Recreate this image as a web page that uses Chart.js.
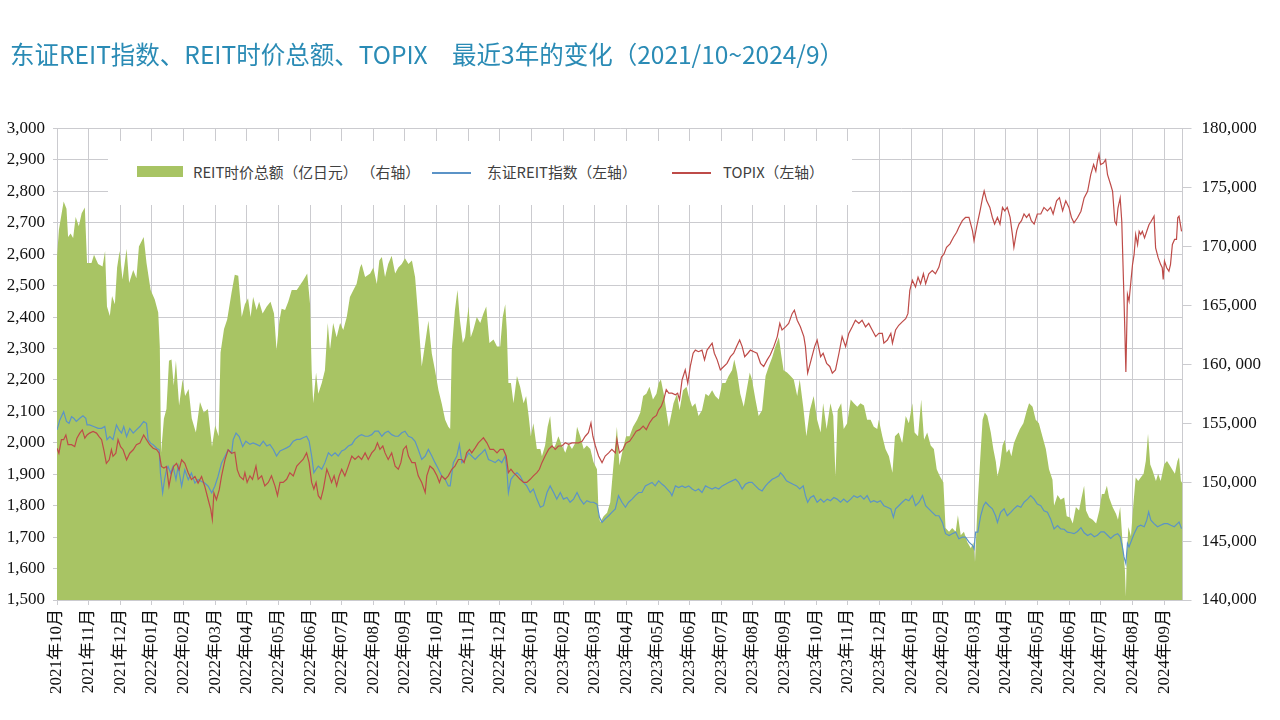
<!DOCTYPE html>
<html>
<head>
<meta charset="utf-8">
<script src="https://cdn.jsdelivr.net/npm/chart.js@4.4.1/dist/chart.umd.min.js"></script>
<style>
  body { margin: 0; width: 1280px; height: 720px; background: #fff; position: relative; overflow: hidden; }
  #title { position: absolute; left: 10px; top: 39px; font: 24.5px "Noto Sans CJK SC", "Noto Sans", sans-serif; line-height: 30px; color: #2a8bb5; white-space: nowrap; }
  #legend { position: absolute; left: 108px; top: 141px; width: 744px; height: 64px; background: #fff; font: 14.8px "Noto Sans CJK SC", "Noto Sans", sans-serif; color: #404040; }
  #legend span { position: absolute; top: 21px; line-height: 20px; white-space: nowrap; }
  #legend i { position: absolute; display: block; }
  canvas { position: absolute; left: 0; top: 0; }
</style>
</head>
<body>
<canvas id="chart" width="1280" height="720"></canvas>
<div id="title">东证REIT指数、REIT时价总额、TOPIX　最近3年的变化（2021/10~2024/9）</div>
<div id="legend">
  <i style="left:29px;top:25px;width:46px;height:11px;background:#a8c464"></i>
  <span style="left:85px">REIT时价总额（亿日元） （右轴）</span>
  <i style="left:324px;top:31px;width:39px;height:1.5px;background:#5b93c7"></i>
  <span style="left:379px">东证REIT指数（左轴）</span>
  <i style="left:564px;top:31px;width:39px;height:1.5px;background:#be4b48"></i>
  <span style="left:615px">TOPIX（左轴）</span>
</div>
<script>
//------------------------------ DATA ----------------------------------
// x 轴刻度（每月）
const monthLabels = [
  '2021年10月', '2021年11月', '2021年12月',
  '2022年01月', '2022年02月', '2022年03月', '2022年04月', '2022年05月', '2022年06月',
  '2022年07月', '2022年08月', '2022年09月', '2022年10月', '2022年11月', '2022年12月',
  '2023年01月', '2023年02月', '2023年03月', '2023年04月', '2023年05月', '2023年06月',
  '2023年07月', '2023年08月', '2023年09月', '2023年10月', '2023年11月', '2023年12月',
  '2024年01月', '2024年02月', '2024年03月', '2024年04月', '2024年05月', '2024年06月',
  '2024年07月', '2024年08月', '2024年09月'
];

// 右轴刻度文字（原图 160, 000 中有空格）
const rightTickLabels = ['140,000', '145,000', '150,000', '155,000', '160, 000', '165,000', '170,000', '175,000', '180,000'];

// REIT时价总额（亿日元）: 月份偏移（2021/10 起）与数值
const capMonth = [
  0.00, 0.06, 0.21, 0.30, 0.35, 0.43, 0.51, 0.59, 0.69, 0.78, 0.88, 0.95, 1.09, 1.17, 1.30, 1.44, 1.52, 1.58, 1.67, 1.74,
  1.83, 1.90, 1.98, 2.07, 2.20, 2.28, 2.41, 2.51, 2.59, 2.74, 2.83, 2.96, 3.09, 3.20, 3.25, 3.29, 3.38, 3.46, 3.54, 3.62,
  3.69, 3.76, 3.86, 3.97, 4.05, 4.16, 4.26, 4.39, 4.52, 4.64, 4.77, 4.90, 5.00, 5.11, 5.17, 5.28, 5.38, 5.52, 5.62, 5.73,
  5.84, 5.94, 6.04, 6.12, 6.20, 6.31, 6.39, 6.50, 6.63, 6.75, 6.86, 6.94, 7.03, 7.10, 7.21, 7.31, 7.42, 7.58, 7.68, 7.78,
  7.91, 8.00, 8.05, 8.10, 8.19, 8.26, 8.37, 8.47, 8.56, 8.63, 8.73, 8.84, 8.95, 9.05, 9.16, 9.26, 9.37, 9.47, 9.58, 9.63,
  9.74, 9.90, 10.00, 10.11, 10.19, 10.27, 10.37, 10.47, 10.58, 10.69, 10.79, 10.90, 11.00, 11.11, 11.22, 11.32, 11.42, 11.53, 11.64, 11.74,
  11.85, 11.95, 12.06, 12.16, 12.27, 12.37, 12.43, 12.48, 12.58, 12.66, 12.74, 12.83, 12.90, 13.01, 13.08, 13.16, 13.27, 13.38, 13.48, 13.57,
  13.67, 13.80, 13.91, 14.01, 14.09, 14.17, 14.22, 14.27, 14.35, 14.43, 14.54, 14.64, 14.75, 14.83, 14.91, 14.98, 15.06, 15.17, 15.28, 15.33,
  15.43, 15.51, 15.59, 15.68, 15.75, 15.85, 15.96, 16.07, 16.17, 16.28, 16.38, 16.44, 16.54, 16.65, 16.75, 16.86, 16.96, 17.07, 17.12, 17.17,
  17.28, 17.39, 17.49, 17.59, 17.70, 17.78, 17.89, 17.99, 18.10, 18.21, 18.34, 18.44, 18.53, 18.63, 18.73, 18.84, 18.95, 19.02, 19.09, 19.18,
  19.34, 19.41, 19.49, 19.60, 19.68, 19.79, 19.90, 19.97, 20.08, 20.18, 20.28, 20.39, 20.50, 20.60, 20.71, 20.81, 20.92, 21.03, 21.13, 21.23,
  21.34, 21.41, 21.50, 21.60, 21.71, 21.82, 21.90, 21.97, 22.08, 22.18, 22.29, 22.40, 22.50, 22.61, 22.71, 22.82, 22.89, 22.97, 23.08, 23.19,
  23.29, 23.40, 23.48, 23.59, 23.69, 23.80, 23.92, 24.03, 24.14, 24.22, 24.33, 24.45, 24.54, 24.61, 24.68, 24.79, 24.87, 24.98, 25.09, 25.19,
  25.30, 25.40, 25.51, 25.61, 25.72, 25.82, 25.93, 25.98, 26.09, 26.19, 26.30, 26.41, 26.49, 26.61, 26.72, 26.83, 26.93, 27.04, 27.11, 27.22,
  27.32, 27.41, 27.51, 27.62, 27.72, 27.81, 27.91, 28.02, 28.09, 28.20, 28.30, 28.41, 28.48, 28.57, 28.67, 28.78, 28.89, 28.97, 29.02, 29.10,
  29.18, 29.26, 29.33, 29.41, 29.52, 29.60, 29.68, 29.73, 29.81, 29.89, 29.96, 30.02, 30.10, 30.17, 30.25, 30.34, 30.44, 30.55, 30.66, 30.73,
  30.84, 30.94, 31.04, 31.15, 31.26, 31.36, 31.47, 31.52, 31.63, 31.73, 31.84, 31.92, 32.03, 32.11, 32.21, 32.31, 32.39, 32.47, 32.53, 32.63,
  32.74, 32.85, 32.95, 33.03, 33.11, 33.19, 33.26, 33.37, 33.48, 33.54, 33.61, 33.68, 33.76, 33.79, 33.82, 33.87, 33.95, 34.03, 34.10, 34.18,
  34.26, 34.35, 34.42, 34.49, 34.56, 34.63, 34.74, 34.81, 34.89, 35.00, 35.09, 35.16, 35.27, 35.34, 35.42, 35.47, 35.53, 35.58
];
const capValue = [
  169100, 171400, 173800, 173200, 170800, 171100, 170700, 172500, 171700, 172800, 173300, 168600, 168600, 169300, 168500, 168300, 169600, 164900, 164100, 165800,
  165100, 168200, 169600, 167200, 169800, 166900, 168000, 167300, 170000, 170800, 168600, 166300, 165500, 164400, 161500, 152500, 155400, 156200, 160300, 160400,
  158200, 160300, 156500, 158700, 157300, 157900, 155400, 154200, 156800, 155900, 156200, 153000, 154800, 153900, 161000, 163000, 163800, 166100, 167600, 167500,
  164000, 165100, 165600, 164000, 165700, 164600, 165300, 164300, 164900, 165300, 164300, 161200, 163700, 164700, 164600, 165300, 166300, 166300, 166700, 167100,
  167700, 165100, 159500, 156700, 159300, 157500, 158400, 159500, 163500, 161200, 163500, 162300, 163500, 162900, 164000, 165700, 166300, 166800, 168200, 168500,
  167400, 167700, 168200, 166800, 168800, 169100, 167400, 168500, 169200, 167700, 168200, 168500, 169000, 168500, 168800, 167400, 164000, 159800, 161800, 163700,
  160900, 159500, 157800, 156700, 155300, 154700, 154500, 161200, 164600, 166300, 163700, 161800, 162300, 164900, 162300, 162900, 164000, 163500, 164300, 164900,
  161800, 162100, 161500, 161500, 164000, 165100, 162900, 158400, 158400, 156700, 159000, 158100, 156700, 157300, 155600, 153900, 155000, 152800, 152800, 152200,
  153100, 154700, 155600, 152800, 153100, 153900, 153100, 152500, 153300, 152800, 153300, 154700, 153900, 152800, 153100, 152800, 151700, 151100, 147400, 146600,
  147100, 147400, 148300, 151400, 154700, 151400, 152800, 153900, 153900, 154700, 155300, 155900, 157300, 157500, 158100, 157000, 157500, 158400, 158700, 157500,
  154700, 155600, 156700, 157500, 156100, 157800, 158100, 157300, 156400, 156700, 155600, 156100, 157500, 157300, 157800, 157300, 157000, 158400, 158400, 159000,
  159500, 160400, 159300, 157500, 156400, 158100, 159300, 158700, 157000, 155600, 156100, 159000, 159800, 160600, 161500, 162300, 160900, 159500, 159300, 159000,
  158700, 157300, 158700, 156400, 153900, 156100, 157300, 155300, 154200, 156700, 154500, 156700, 155600, 150500, 156100, 156700, 154500, 155000, 157000, 156700,
  156400, 156700, 156500, 155300, 155300, 154700, 154500, 155300, 153900, 152800, 152200, 150800, 153900, 154200, 153300, 155600, 155000, 156700, 154200, 153900,
  157000, 153600, 154200, 153100, 152800, 151100, 150500, 150000, 146100, 145800, 146100, 145800, 147200, 145500, 145800, 144900, 144400, 144900, 143200, 148000,
  151700, 155300, 155900, 155600, 154200, 152800, 151700, 150500, 151400, 153100, 153600, 152500, 152800, 152200, 153300, 153900, 154500, 155000, 156100, 156700,
  156400, 155300, 155000, 153900, 152800, 151100, 150200, 148000, 148900, 148500, 148700, 147100, 147000, 146500, 147900, 147600, 148700, 149700, 147600, 147000,
  146800, 146500, 147600, 149000, 149000, 149700, 148700, 147900, 147300, 146800, 147900, 145100, 142500, 140300, 143900, 146200, 145400, 148200, 150400, 150100,
  150400, 150700, 151800, 154100, 151500, 151000, 150100, 150700, 150100, 151500, 151800, 151500, 151000, 150700, 151800, 152100, 150100, 149900
];

// 东证REIT指数
const reitMonth = [
  0.00, 0.09, 0.21, 0.30, 0.38, 0.46, 0.53, 0.61, 0.72, 0.82, 0.91, 0.95, 1.03, 1.16, 1.30, 1.41, 1.51, 1.58, 1.67, 1.77,
  1.88, 1.96, 2.04, 2.11, 2.20, 2.30, 2.41, 2.51, 2.62, 2.74, 2.83, 2.88, 2.96, 3.04, 3.15, 3.23, 3.27, 3.34, 3.40, 3.46,
  3.51, 3.59, 3.67, 3.76, 3.83, 3.94, 4.04, 4.15, 4.25, 4.36, 4.46, 4.57, 4.67, 4.78, 4.89, 4.99, 5.09, 5.20, 5.31, 5.41,
  5.52, 5.57, 5.66, 5.76, 5.87, 5.97, 6.10, 6.20, 6.31, 6.41, 6.52, 6.63, 6.73, 6.84, 6.94, 7.05, 7.15, 7.26, 7.36, 7.47,
  7.58, 7.68, 7.78, 7.89, 7.97, 8.05, 8.12, 8.19, 8.26, 8.37, 8.47, 8.58, 8.68, 8.79, 8.89, 9.00, 9.10, 9.21, 9.32, 9.42,
  9.53, 9.63, 9.74, 9.84, 9.95, 10.05, 10.16, 10.27, 10.37, 10.47, 10.58, 10.69, 10.79, 10.90, 11.00, 11.11, 11.22, 11.32, 11.42, 11.53,
  11.64, 11.74, 11.85, 11.95, 12.06, 12.16, 12.27, 12.37, 12.43, 12.53, 12.64, 12.72, 12.80, 12.90, 13.01, 13.11, 13.22, 13.32, 13.43, 13.53,
  13.64, 13.75, 13.85, 13.96, 14.06, 14.17, 14.22, 14.27, 14.35, 14.43, 14.54, 14.64, 14.75, 14.85, 14.96, 15.06, 15.17, 15.28, 15.38, 15.49,
  15.59, 15.70, 15.80, 15.91, 16.01, 16.12, 16.22, 16.33, 16.44, 16.54, 16.65, 16.75, 16.86, 16.96, 17.07, 17.15, 17.23, 17.33, 17.44, 17.54,
  17.65, 17.75, 17.86, 17.97, 18.07, 18.18, 18.28, 18.39, 18.49, 18.60, 18.70, 18.81, 18.91, 19.02, 19.13, 19.20, 19.29, 19.39, 19.44, 19.55,
  19.65, 19.76, 19.86, 19.97, 20.08, 20.18, 20.28, 20.39, 20.50, 20.60, 20.71, 20.81, 20.92, 21.03, 21.13, 21.23, 21.34, 21.45, 21.55, 21.66,
  21.76, 21.87, 21.97, 22.08, 22.18, 22.29, 22.40, 22.50, 22.61, 22.71, 22.82, 22.87, 22.96, 23.06, 23.16, 23.27, 23.38, 23.48, 23.59, 23.66,
  23.73, 23.82, 23.92, 24.03, 24.14, 24.24, 24.35, 24.45, 24.56, 24.66, 24.77, 24.87, 24.98, 25.09, 25.19, 25.30, 25.40, 25.51, 25.61, 25.72,
  25.82, 25.93, 26.03, 26.14, 26.25, 26.36, 26.44, 26.51, 26.61, 26.72, 26.83, 26.93, 27.04, 27.14, 27.25, 27.36, 27.46, 27.56, 27.67, 27.78,
  27.88, 27.99, 28.09, 28.20, 28.30, 28.41, 28.51, 28.62, 28.72, 28.83, 28.94, 28.99, 29.04, 29.11, 29.20, 29.29, 29.36, 29.46, 29.57, 29.67,
  29.73, 29.83, 29.94, 30.04, 30.15, 30.25, 30.36, 30.47, 30.57, 30.68, 30.78, 30.89, 30.99, 31.10, 31.20, 31.31, 31.41, 31.52, 31.63, 31.73,
  31.84, 31.94, 32.05, 32.15, 32.26, 32.37, 32.47, 32.58, 32.68, 32.79, 32.89, 33.00, 33.10, 33.21, 33.31, 33.42, 33.53, 33.61, 33.68, 33.73,
  33.79, 33.84, 33.89, 33.97, 34.05, 34.16, 34.26, 34.37, 34.45, 34.51, 34.58, 34.68, 34.79, 34.89, 35.00, 35.11, 35.21, 35.32, 35.42, 35.47,
  35.55
];
const reitValue = [
  2041, 2073, 2099, 2068, 2062, 2083, 2078, 2068, 2078, 2086, 2078, 2057, 2057, 2052, 2046, 2046, 2052, 2010, 2020, 2010,
  2057, 2041, 2031, 2052, 2020, 2046, 2031, 2041, 2052, 2068, 2062, 2010, 1999, 1994, 1983, 1978, 1904, 1841, 1883, 1914,
  1925, 1904, 1925, 1883, 1925, 1862, 1914, 1883, 1904, 1872, 1883, 1877, 1872, 1862, 1841, 1862, 1893, 1935, 1957, 1978,
  1967, 2010, 2031, 2020, 1988, 2005, 1995, 2000, 1995, 1990, 2005, 1990, 1995, 1979, 1958, 1974, 1979, 1984, 1990, 2005,
  2011, 2011, 2016, 2021, 2005, 1958, 1905, 1916, 1926, 1916, 1937, 1968, 1958, 1968, 1958, 1974, 1979, 1990, 1995, 2011,
  2021, 2026, 2021, 2021, 2026, 2037, 2037, 2021, 2032, 2037, 2026, 2021, 2021, 2032, 2037, 2021, 2016, 2005, 1979, 1947,
  1958, 1979, 1958, 1937, 1916, 1895, 1884, 1863, 1863, 1937, 1958, 1995, 1937, 1947, 1968, 1958, 1947, 1958, 1968, 1979,
  1947, 1942, 1937, 1947, 1937, 1958, 1916, 1842, 1884, 1895, 1905, 1895, 1874, 1863, 1842, 1853, 1821, 1795, 1800, 1842,
  1863, 1842, 1821, 1842, 1821, 1826, 1811, 1821, 1842, 1821, 1805, 1816, 1811, 1811, 1805, 1763, 1747, 1758, 1768, 1779,
  1790, 1832, 1811, 1795, 1811, 1821, 1832, 1842, 1842, 1863, 1868, 1874, 1863, 1879, 1868, 1863, 1853, 1842, 1832, 1863,
  1858, 1863, 1858, 1863, 1853, 1847, 1853, 1842, 1863, 1858, 1853, 1858, 1853, 1863, 1868, 1874, 1879, 1884, 1874, 1853,
  1868, 1874, 1874, 1863, 1853, 1847, 1863, 1874, 1884, 1889, 1895, 1905, 1895, 1879, 1874, 1868, 1863, 1853, 1863, 1832,
  1811, 1826, 1832, 1811, 1821, 1811, 1821, 1816, 1826, 1821, 1811, 1821, 1811, 1821, 1832, 1826, 1832, 1821, 1832, 1811,
  1816, 1811, 1816, 1800, 1795, 1790, 1763, 1790, 1800, 1811, 1821, 1816, 1832, 1800, 1811, 1832, 1800, 1790, 1779, 1768,
  1768, 1747, 1711, 1705, 1711, 1716, 1695, 1700, 1700, 1684, 1674, 1663, 1716, 1716, 1768, 1800, 1811, 1800, 1790, 1768,
  1747, 1779, 1790, 1768, 1779, 1790, 1800, 1795, 1811, 1821, 1832, 1821, 1805, 1800, 1784, 1779, 1758, 1726, 1737, 1726,
  1725, 1716, 1714, 1711, 1718, 1730, 1714, 1705, 1711, 1701, 1706, 1717, 1717, 1706, 1696, 1706, 1711, 1701, 1669, 1637,
  1616, 1680, 1669, 1690, 1711, 1733, 1738, 1733, 1754, 1780, 1754, 1743, 1733, 1738, 1743, 1743, 1738, 1733, 1743, 1748,
  1727
];

// TOPIX
const topixMonth = [
  0.00, 0.06, 0.14, 0.21, 0.28, 0.35, 0.46, 0.56, 0.63, 0.72, 0.80, 0.88, 0.95, 1.03, 1.14, 1.25, 1.33, 1.41, 1.48, 1.56,
  1.65, 1.72, 1.77, 1.86, 1.93, 2.01, 2.09, 2.20, 2.30, 2.41, 2.51, 2.62, 2.74, 2.83, 2.93, 3.04, 3.15, 3.23, 3.30, 3.38,
  3.46, 3.54, 3.62, 3.69, 3.78, 3.86, 3.94, 4.04, 4.15, 4.25, 4.36, 4.46, 4.57, 4.67, 4.78, 4.86, 4.91, 4.96, 5.04, 5.13,
  5.20, 5.31, 5.41, 5.52, 5.62, 5.70, 5.78, 5.89, 5.94, 6.01, 6.10, 6.18, 6.29, 6.36, 6.47, 6.57, 6.68, 6.78, 6.89, 6.97,
  7.05, 7.15, 7.26, 7.36, 7.47, 7.58, 7.68, 7.78, 7.89, 7.97, 8.05, 8.12, 8.19, 8.26, 8.34, 8.42, 8.53, 8.61, 8.68, 8.76,
  8.84, 8.92, 9.00, 9.10, 9.21, 9.32, 9.42, 9.53, 9.63, 9.74, 9.84, 9.95, 10.05, 10.13, 10.21, 10.30, 10.37, 10.47, 10.58, 10.69,
  10.79, 10.87, 10.95, 11.04, 11.11, 11.22, 11.32, 11.42, 11.53, 11.64, 11.69, 11.79, 11.90, 12.01, 12.09, 12.16, 12.27, 12.37, 12.48, 12.58,
  12.69, 12.80, 12.87, 12.95, 13.04, 13.11, 13.22, 13.32, 13.43, 13.48, 13.59, 13.69, 13.80, 13.91, 14.01, 14.11, 14.20, 14.27, 14.35, 14.43,
  14.54, 14.64, 14.75, 14.85, 14.96, 15.06, 15.17, 15.25, 15.33, 15.43, 15.54, 15.65, 15.75, 15.85, 15.96, 16.07, 16.17, 16.28, 16.38, 16.49,
  16.60, 16.70, 16.80, 16.88, 16.94, 17.02, 17.12, 17.23, 17.33, 17.44, 17.54, 17.65, 17.70, 17.78, 17.89, 17.99, 18.10, 18.21, 18.31, 18.42,
  18.53, 18.63, 18.73, 18.84, 18.95, 19.02, 19.10, 19.18, 19.26, 19.34, 19.44, 19.55, 19.62, 19.68, 19.76, 19.86, 19.94, 20.02, 20.11, 20.18,
  20.28, 20.39, 20.47, 20.55, 20.63, 20.71, 20.78, 20.87, 20.97, 21.08, 21.18, 21.29, 21.39, 21.48, 21.58, 21.66, 21.74, 21.84, 21.92, 22.03,
  22.13, 22.24, 22.34, 22.45, 22.55, 22.66, 22.77, 22.85, 22.92, 23.03, 23.13, 23.24, 23.31, 23.40, 23.50, 23.61, 23.66, 23.73, 23.84, 23.95,
  24.03, 24.14, 24.22, 24.33, 24.43, 24.51, 24.61, 24.72, 24.82, 24.93, 25.03, 25.14, 25.24, 25.35, 25.45, 25.56, 25.66, 25.77, 25.88, 25.98,
  26.09, 26.14, 26.25, 26.36, 26.41, 26.51, 26.61, 26.72, 26.83, 26.90, 26.96, 27.04, 27.14, 27.22, 27.30, 27.39, 27.46, 27.56, 27.67, 27.77,
  27.88, 27.96, 28.04, 28.12, 28.23, 28.34, 28.44, 28.51, 28.62, 28.72, 28.83, 28.94, 28.99, 29.07, 29.18, 29.26, 29.31, 29.39, 29.49, 29.57,
  29.64, 29.73, 29.81, 29.89, 29.96, 30.04, 30.13, 30.20, 30.25, 30.34, 30.41, 30.49, 30.57, 30.65, 30.73, 30.80, 30.89, 30.99, 31.10, 31.20,
  31.31, 31.41, 31.49, 31.60, 31.69, 31.79, 31.89, 31.99, 32.07, 32.15, 32.26, 32.37, 32.47, 32.58, 32.68, 32.77, 32.84, 32.89, 32.94, 32.99,
  33.08, 33.15, 33.21, 33.31, 33.37, 33.44, 33.49, 33.54, 33.61, 33.66, 33.72, 33.76, 33.79, 33.84, 33.89, 33.95, 34.00, 34.05, 34.10, 34.16,
  34.21, 34.26, 34.31, 34.38, 34.45, 34.52, 34.59, 34.68, 34.73, 34.81, 34.89, 34.94, 34.97, 35.01, 35.08, 35.15, 35.20, 35.26, 35.33, 35.39,
  35.43, 35.47, 35.55
];
const topixValue = [
  1983, 1967, 2010, 2010, 2025, 1994, 1994, 1988, 2015, 2031, 2041, 2015, 2025, 2031, 2036, 2031, 2020, 2010, 1978, 1935,
  1946, 1978, 1957, 1967, 2010, 1988, 1978, 1946, 1967, 1978, 1994, 1999, 2025, 2010, 1994, 1983, 1978, 1967, 1925, 1920,
  1925, 1862, 1904, 1925, 1935, 1914, 1946, 1935, 1904, 1883, 1893, 1872, 1893, 1862, 1819, 1788, 1756, 1841, 1819, 1851,
  1893, 1946, 1978, 1967, 1970, 1914, 1893, 1883, 1905, 1874, 1895, 1884, 1926, 1884, 1895, 1863, 1874, 1895, 1863, 1832,
  1874, 1874, 1884, 1905, 1895, 1926, 1937, 1947, 1968, 1937, 1874, 1853, 1874, 1832, 1821, 1853, 1916, 1895, 1874, 1895,
  1863, 1895, 1916, 1895, 1926, 1958, 1947, 1958, 1947, 1968, 1947, 1968, 1979, 2000, 1979, 1990, 1968, 1947, 1968, 1926,
  1916, 1937, 1979, 1990, 1958, 1937, 1937, 1895, 1874, 1842, 1895, 1926, 1916, 1895, 1874, 1895, 1884, 1895, 1916, 1926,
  1947, 1947, 1937, 1968, 1979, 1968, 1984, 2000, 2011, 2016, 2000, 1979, 1979, 1968, 1979, 1979, 1958, 1905, 1916, 1905,
  1895, 1884, 1874, 1874, 1884, 1895, 1905, 1916, 1937, 1958, 1979, 1990, 1979, 1990, 1990, 2000, 1995, 2000, 2000, 2000,
  2005, 2021, 2032, 2063, 2021, 1990, 1958, 1937, 1958, 1968, 1979, 1968, 2011, 1968, 1979, 2000, 2005, 2021, 2037, 2042,
  2053, 2042, 2063, 2079, 2087, 2105, 2116, 2137, 2169, 2158, 2158, 2153, 2158, 2137, 2200, 2232, 2190, 2243, 2285, 2295,
  2290, 2295, 2264, 2295, 2306, 2317, 2285, 2264, 2232, 2243, 2253, 2274, 2285, 2306, 2327, 2306, 2274, 2285, 2295, 2290,
  2285, 2253, 2243, 2264, 2280, 2306, 2338, 2380, 2359, 2369, 2380, 2411, 2422, 2390, 2369, 2338, 2306, 2222, 2264, 2306,
  2327, 2274, 2285, 2253, 2243, 2222, 2232, 2285, 2338, 2306, 2348, 2369, 2390, 2380, 2390, 2369, 2380, 2359, 2338, 2348,
  2348, 2317, 2327, 2348, 2317, 2359, 2374, 2385, 2395, 2411, 2485, 2517, 2496, 2527, 2506, 2538, 2506, 2538, 2548, 2538,
  2559, 2591, 2601, 2622, 2633, 2654, 2670, 2686, 2707, 2717, 2717, 2675, 2643, 2686, 2738, 2780, 2801, 2770, 2749, 2717,
  2696, 2717, 2696, 2749, 2738, 2749, 2717, 2665, 2622, 2675, 2696, 2707, 2728, 2717, 2728, 2707, 2696, 2728, 2728, 2749,
  2738, 2749, 2728, 2770, 2780, 2738, 2770, 2749, 2717, 2700, 2716, 2737, 2779, 2800, 2853, 2885, 2864, 2896, 2918, 2885,
  2890, 2901, 2853, 2821, 2800, 2705, 2695, 2747, 2779, 2705, 2494, 2346, 2225, 2472, 2451, 2515, 2567, 2599, 2663, 2631,
  2673, 2663, 2673, 2652, 2673, 2694, 2705, 2721, 2620, 2589, 2567, 2557, 2520, 2578, 2557, 2546, 2567, 2631, 2647, 2647,
  2716, 2721, 2673
];

//------------------------------ CHART ----------------------------------
const gridColor = '#cbcbcf';
const tickFont = { family: '"Liberation Serif", "Noto Sans CJK SC", serif', size: 17 };

function toPoints(xs, ys) {
  return xs.map((x, i) => ({ x: x, y: ys[i] }));
}

const ctx = document.getElementById('chart').getContext('2d');
new Chart(ctx, {
  type: 'line',
  data: {
    datasets: [
      {
        label: 'TOPIX（左轴）',
        data: toPoints(topixMonth, topixValue),
        yAxisID: 'y',
        borderColor: '#be4b48',
        borderWidth: 1.2,
        pointRadius: 0,
        tension: 0,
        fill: false,
        order: 0
      },
      {
        label: '东证REIT指数（左轴）',
        data: toPoints(reitMonth, reitValue),
        yAxisID: 'y',
        borderColor: '#5b93c7',
        borderWidth: 1.2,
        pointRadius: 0,
        tension: 0,
        fill: false,
        order: 1
      },
      {
        label: 'REIT时价总额（亿日元）（右轴）',
        data: toPoints(capMonth, capValue),
        yAxisID: 'y2',
        borderWidth: 0,
        borderColor: 'rgba(0,0,0,0)',
        backgroundColor: '#a8c464',
        pointRadius: 0,
        tension: 0,
        fill: 'start',
        order: 2
      }
    ]
  },
  options: {
    responsive: false,
    animation: false,
    devicePixelRatio: 1,
    layout: { padding: { top: 128.5, left: 0, right: 0, bottom: 0 } },
    plugins: {
      legend: { display: false },
      tooltip: { enabled: false },
      title: { display: false }
    },
    scales: {
      x: {
        type: 'linear',
        min: 0,
        max: 35.58,
        afterBuildTicks: (scale) => {
          scale.ticks = monthLabels.map((_, i) => ({ value: i }));
        },
        afterFit: (scale) => { scale.height = 120; },
        ticks: {
          autoSkip: false,
          minRotation: 90,
          maxRotation: 90,
          padding: 4,
          color: '#111',
          font: tickFont,
          callback: (v) => monthLabels[v]
        },
        grid: { color: gridColor, lineWidth: 1, tickLength: 5 },
        border: { color: gridColor }
      },
      y: {
        position: 'left',
        min: 1500,
        max: 3000,
        afterFit: (scale) => { scale.width = 57; },
        ticks: {
          stepSize: 100,
          padding: 8,
          color: '#111',
          font: tickFont,
          callback: (v) => v.toLocaleString('en-US')
        },
        grid: { color: gridColor, lineWidth: 1, tickLength: 4 },
        border: { color: gridColor }
      },
      y2: {
        position: 'right',
        min: 140000,
        max: 180000,
        afterFit: (scale) => { scale.width = 97.5; },
        ticks: {
          stepSize: 5000,
          padding: 10,
          color: '#111',
          font: tickFont,
          callback: (v, i) => rightTickLabels[i]
        },
        grid: { drawOnChartArea: false, color: gridColor, tickLength: 9 },
        border: { color: gridColor }
      }
    }
  }
});
</script>
</body>
</html>
